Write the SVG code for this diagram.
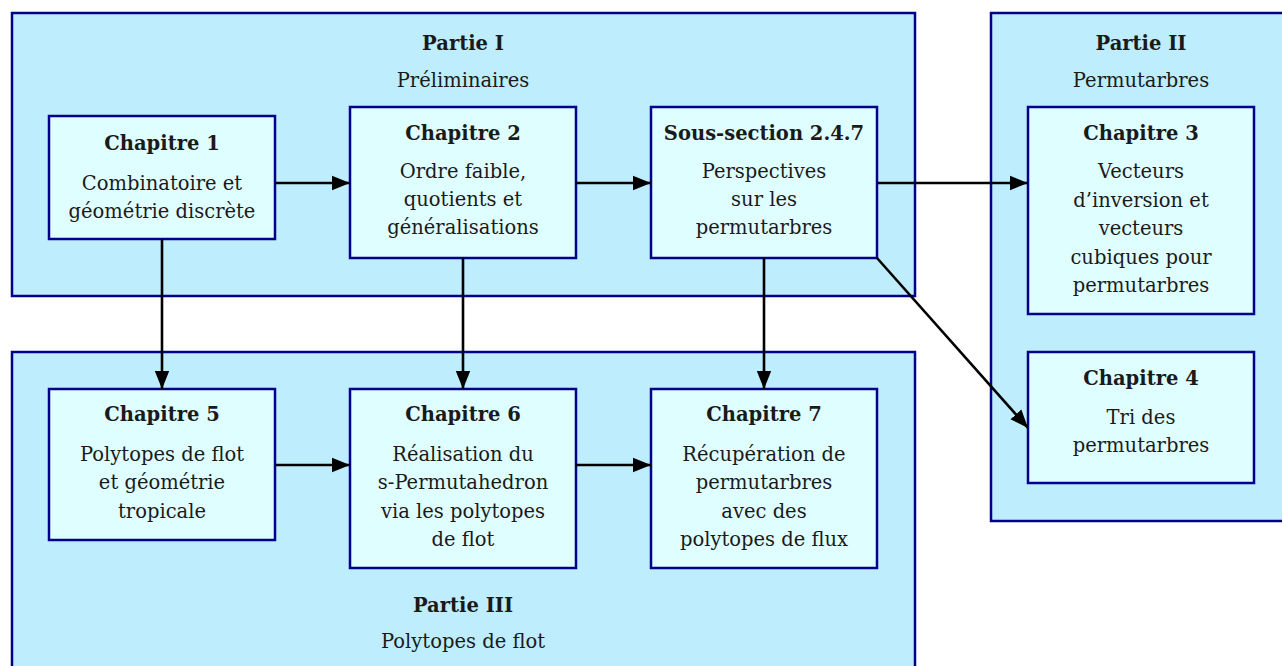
<svg xmlns="http://www.w3.org/2000/svg" width="1282" height="666" viewBox="0 0 1282 666">
<defs>
<style>
.part{fill:#BEEDFD;stroke:#00008B;stroke-width:2.5}
.node{fill:#DFFEFF;stroke:#00008B;stroke-width:2.5}
text{font-family:"DejaVu Serif","Liberation Serif",serif;font-size:19.5px;fill:#1a1a1a;text-anchor:middle}
.b{font-weight:bold}
.edge{stroke:#000;stroke-width:2.6;fill:none;marker-end:url(#ah)}
</style>
<marker id="ah" viewBox="0 0 10 10" refX="10" refY="5" markerWidth="7" markerHeight="7" markerUnits="strokeWidth" orient="auto">
<path d="M0,1 L10,5 L0,9 Z" fill="#000"/>
</marker>
</defs>
<g id="partI"><rect class="part" x="12" y="13" width="903" height="283"/>
<text class="b" x="463" y="50">Partie I</text><text x="463" y="87">Préliminaires</text></g>
<g id="partII"><rect class="part" x="991" y="13" width="295" height="508"/>
<text class="b" x="1141" y="50">Partie II</text><text x="1141" y="87">Permutarbres</text></g>
<g id="partIII"><rect class="part" x="12" y="352" width="903" height="320"/>
<text class="b" x="463" y="612">Partie III</text><text x="463" y="648">Polytopes de flot</text></g>
<g id="ch1"><rect class="node" x="49" y="116" width="226" height="123"/>
<text class="b" x="162" y="150">Chapitre 1</text><text x="162" y="190">Combinatoire et</text><text x="162" y="218">géométrie discrète</text></g>
<g id="ch2"><rect class="node" x="350" y="107" width="226" height="151"/>
<text class="b" x="463" y="140">Chapitre 2</text><text x="463" y="178">Ordre faible,</text><text x="463" y="206">quotients et</text><text x="463" y="234">généralisations</text></g>
<g id="ss247"><rect class="node" x="651" y="107" width="226" height="151"/>
<text class="b" x="764" y="140">Sous-section 2.4.7</text><text x="764" y="178">Perspectives</text><text x="764" y="206">sur les</text><text x="764" y="234">permutarbres</text></g>
<g id="ch3"><rect class="node" x="1028" y="107" width="226" height="207"/>
<text class="b" x="1141" y="140">Chapitre 3</text><text x="1141" y="178">Vecteurs</text><text x="1141" y="207">d’inversion et</text><text x="1141" y="235">vecteurs</text><text x="1141" y="264">cubiques pour</text><text x="1141" y="292">permutarbres</text></g>
<g id="ch4"><rect class="node" x="1028" y="352" width="226" height="131"/>
<text class="b" x="1141" y="385">Chapitre 4</text><text x="1141" y="424">Tri des</text><text x="1141" y="452">permutarbres</text></g>
<g id="ch5"><rect class="node" x="49" y="389" width="226" height="151"/>
<text class="b" x="162" y="421">Chapitre 5</text><text x="162" y="461">Polytopes de flot</text><text x="162" y="489">et géométrie</text><text x="162" y="518">tropicale</text></g>
<g id="ch6"><rect class="node" x="350" y="389" width="226" height="179"/>
<text class="b" x="463" y="421">Chapitre 6</text><text x="463" y="461">Réalisation du</text><text x="463" y="489">s-Permutahedron</text><text x="463" y="518">via les polytopes</text><text x="463" y="546">de flot</text></g>
<g id="ch7"><rect class="node" x="651" y="389" width="226" height="179"/>
<text class="b" x="764" y="421">Chapitre 7</text><text x="764" y="461">Récupération de</text><text x="764" y="489">permutarbres</text><text x="764" y="518">avec des</text><text x="764" y="546">polytopes de flux</text></g>
<g id="connectors">
<line class="edge" x1="275" y1="183" x2="350" y2="183"/>
<line class="edge" x1="576" y1="183" x2="651" y2="183"/>
<line class="edge" x1="877" y1="183" x2="1028" y2="183"/>
<line class="edge" x1="877" y1="258" x2="1028" y2="428"/>
<line class="edge" x1="162" y1="239" x2="162" y2="389"/>
<line class="edge" x1="463" y1="258" x2="463" y2="389"/>
<line class="edge" x1="764" y1="258" x2="764" y2="389"/>
<line class="edge" x1="275" y1="465" x2="350" y2="465"/>
<line class="edge" x1="576" y1="465" x2="651" y2="465"/>
</g>
</svg>
